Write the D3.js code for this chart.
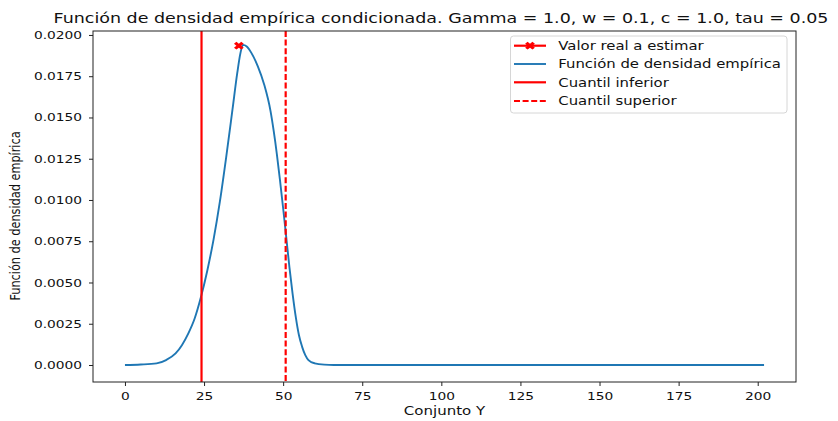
<!DOCTYPE html>
<html>
<head>
<meta charset="utf-8">
<script src="https://cdn.jsdelivr.net/npm/d3@7"></script>
<style>
  body { margin: 0; background: #fff; }
  svg { display: block; font-family: "DejaVu Sans", sans-serif; }
</style>
</head>
<body>
<svg id="chart"></svg>
<script>
// empirical density sampled along Y
const densityX = [0, 5, 10, 13, 16, 18, 20, 22, 24, 26, 28, 30, 32, 34, 35.5, 36.5, 37.3, 38.5, 40, 42,
                  44, 46, 47, 48, 49, 50, 51, 52, 53, 54, 55, 56, 57, 58, 60, 63, 66, 80, 120, 160, 202];
const densityY = [0, 0.00003, 0.0001, 0.0003, 0.0007, 0.0012, 0.0019, 0.0028, 0.0041, 0.0057, 0.0076, 0.0099, 0.0126, 0.0155, 0.0177, 0.0189, 0.0194, 0.0193, 0.0189, 0.0181,
                  0.0170, 0.0154, 0.0142, 0.0128, 0.0112, 0.0095, 0.0077, 0.0059, 0.0043, 0.0029, 0.0018, 0.0011, 0.0006, 0.0003, 0.0001, 0.00002, 0, 0, 0, 0, 0];

const realValue = { x: 36.0, y: 0.01935 };
const lowerQuantile = 24.2;
const upperQuantile = 50.8;

const xTicks = [0, 25, 50, 75, 100, 125, 150, 175, 200];
const yTicks = [0, 0.0025, 0.005, 0.0075, 0.01, 0.0125, 0.015, 0.0175, 0.02];

const legendLabels = ["Valor real a estimar", "Función de densidad empírica", "Cuantil inferior", "Cuantil superior"];

const titleText = "Función de densidad empírica condicionada. Gamma = 1.0, w = 0.1, c = 1.0, tau = 0.05";

function drawChart() {
    const svgWidth = 838, svgHeight = 421;
    const plot = { left: 93, right: 796, top: 31, bottom: 382 };
    const SX = 1.25;          // glyphs are wider than tall in this figure
    const blue = "#1f77b4", red = "#ff0000";

    const svg = d3.select("#chart")
        .attr("width", svgWidth)
        .attr("height", svgHeight);

    svg.append("rect").attr("width", svgWidth).attr("height", svgHeight).attr("fill", "#fff");

    const x = d3.scaleLinear().domain([-10.1, 212.1]).range([plot.left, plot.right]);
    const y = d3.scaleLinear().domain([-0.00103, 0.02024]).range([plot.bottom, plot.top]);

    // stretched text helper
    function label(g, tx, ty, str, size, anchor) {
        return g.append("text")
            .attr("transform", `translate(${tx},${ty}) scale(${SX},1)`)
            .attr("font-size", size)
            .attr("text-anchor", anchor || "start")
            .attr("fill", "#111")
            .text(str);
    }

    // title
    label(svg, 441, 23, titleText, 14, "middle");

    // density curve
    const pts = densityX.map((d, i) => [d, densityY[i]]);
    const line = d3.line()
        .x(d => x(d[0]))
        .y(d => y(d[1]))
        .curve(d3.curveMonotoneX);

    svg.append("path")
        .datum(pts)
        .attr("fill", "none")
        .attr("stroke", blue)
        .attr("stroke-width", 1.9)
        .attr("stroke-linejoin", "round")
        .attr("d", line);

    // quantile lines
    svg.append("line")
        .attr("x1", x(lowerQuantile)).attr("x2", x(lowerQuantile))
        .attr("y1", plot.top).attr("y2", plot.bottom)
        .attr("stroke", red).attr("stroke-width", 2.2);

    svg.append("line")
        .attr("x1", x(upperQuantile)).attr("x2", x(upperQuantile))
        .attr("y1", plot.top).attr("y2", plot.bottom)
        .attr("stroke", red).attr("stroke-width", 2.2)
        .attr("stroke-dasharray", "6,2.6");

    // marker for the real value
    const xMark = d3.symbol().type(d3.symbolCross).size(38);
    function marker(g, cx, cy) {
        g.append("path")
            .attr("d", xMark())
            .attr("transform", `translate(${cx},${cy}) scale(${SX},1) rotate(45)`)
            .attr("fill", red);
    }
    marker(svg, x(realValue.x), y(realValue.y));

    // axes
    const yAxis = svg.append("g")
        .attr("transform", `translate(${plot.left},0)`)
        .call(d3.axisLeft(y).tickValues(yTicks).tickFormat(d3.format(".4f")).tickSize(4).tickPadding(7));
    yAxis.select(".domain").remove();
    yAxis.selectAll("text")
        .attr("x", -11 / SX)
        .attr("transform", `scale(${SX},1)`)
        .attr("font-size", 11)
        .attr("font-family", "DejaVu Sans")
        .attr("fill", "#111");

    const xAxis = svg.append("g")
        .attr("transform", `translate(0,${plot.bottom})`)
        .call(d3.axisBottom(x).tickValues(xTicks).tickFormat(d3.format("d")).tickSize(4).tickPadding(5.7));
    xAxis.select(".domain").remove();
    xAxis.selectAll("text")
        .attr("transform", `scale(${SX},1)`)
        .attr("x", 0)
        .attr("text-anchor", "middle")
        .attr("font-size", 11)
        .attr("font-family", "DejaVu Sans")
        .attr("fill", "#111");
    svg.selectAll(".tick line").attr("stroke", "#222").attr("stroke-width", 1);

    // frame
    svg.append("rect")
        .attr("x", plot.left).attr("y", plot.top)
        .attr("width", plot.right - plot.left).attr("height", plot.bottom - plot.top)
        .attr("fill", "none").attr("stroke", "#222").attr("stroke-width", 1);

    // axis labels
    label(svg, 444.5, 415, "Conjunto Y", 12, "middle");
    svg.append("text")
        .attr("transform", `translate(20,216) rotate(-90) scale(1,${SX})`)
        .attr("font-size", 11.3)
        .attr("text-anchor", "middle")
        .attr("fill", "#111")
        .text("Función de densidad empírica");

    // legend
    const lg = svg.append("g");
    lg.append("rect")
        .attr("x", 510.5).attr("y", 36).attr("width", 276.5).attr("height", 77)
        .attr("rx", 3)
        .attr("fill", "#fff").attr("fill-opacity", 0.8)
        .attr("stroke", "#d6d6d6").attr("stroke-width", 1);

    const rowY = [45.7, 64, 82.3, 101];
    const h0 = 514, h1 = 546;
    legendLabels.forEach((txt, i) => {
        const ry = rowY[i];
        const seg = lg.append("line")
            .attr("x1", h0).attr("x2", h1).attr("y1", ry).attr("y2", ry)
            .attr("stroke", i === 1 ? blue : red)
            .attr("stroke-width", i === 1 ? 1.9 : 2.2);
        if (i === 3) seg.attr("stroke-dasharray", "6,2.6");
        if (i === 0) marker(lg, (h0 + h1) / 2, ry);
        label(lg, 558.3, ry + 4.3, txt, 11.9);
    });
}

drawChart();
</script>
</body>
</html>
